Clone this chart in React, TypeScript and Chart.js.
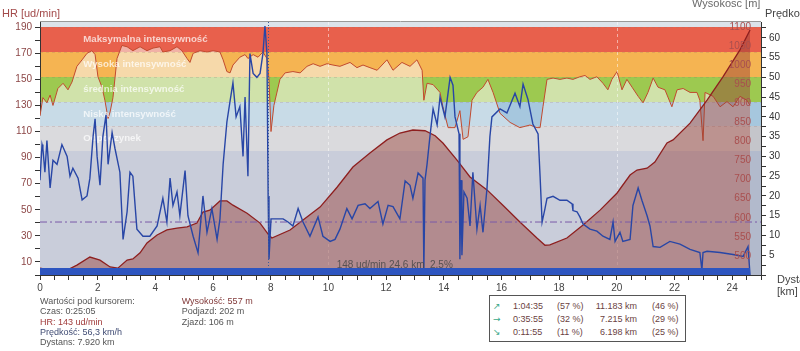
import React, { useEffect, useRef } from "react";
import { Chart, registerables } from "chart.js";

Chart.register(...registerables);

const FONT = "'Liberation Sans', Arial, Helvetica, sans-serif";

// ---------- data ----------
const hrKm = [0.00,0.10,0.24,0.35,0.45,0.62,0.80,0.97,1.11,1.28,1.46,1.63,1.80,1.91,2.01,2.15,2.25,2.36,2.43,2.53,2.67,2.84,3.02,3.22,3.47,3.71,3.92,4.16,4.26,4.51,4.75,4.92,5.10,5.20,5.31,5.55,5.79,6.00,6.24,6.35,6.48,6.59,6.69,6.93,7.11,7.21,7.39,7.56,7.73,7.87,7.94,8.01,8.11,8.32,8.50,8.77,9.02,9.26,9.47,9.71,9.95,10.16,10.40,10.75,10.99,11.20,11.44,11.69,12.03,12.24,12.55,12.83,13.07,13.25,13.31,13.42,13.63,13.87,13.97,14.15,14.39,14.56,14.67,14.84,14.98,15.15,15.36,15.53,15.71,15.95,16.30,16.64,16.99,17.23,17.34,17.44,17.58,17.79,18.03,18.27,18.48,18.72,18.90,19.07,19.31,19.52,19.69,19.83,20.01,20.18,20.35,20.53,20.74,20.91,21.08,21.26,21.43,21.67,21.91,22.09,22.30,22.54,22.78,22.88,22.99,23.06,23.34,23.58,23.82,24.03,24.27,24.51,24.62];
const hrBpm = [122,136,132,138,130,143,147,142,148,160,165,170,172,169,152,144,134,120,125,136,166,176,175,172,175,172,174,175,171,172,175,172,166,163,170,172,171,172,171,165,156,155,161,167,169,166,169,167,171,166,150,110,130,150,155,156,155,160,162,160,162,161,160,163,159,161,159,157,165,157,163,160,165,157,134,147,146,140,129,113,113,126,104,106,134,140,144,150,140,124,117,113,115,113,113,129,150,151,150,151,150,152,153,150,152,147,142,150,156,142,150,144,137,132,140,151,144,142,129,142,143,140,140,134,103,140,137,129,133,129,137,134,130];

const elevKm = [0.00,0.35,0.94,1.28,1.73,2.08,2.43,2.70,3.02,3.22,3.47,3.71,4.06,4.40,4.75,5.10,5.44,5.65,5.89,6.24,6.48,6.69,7.18,7.63,7.91,8.04,8.67,9.12,9.71,10.30,10.85,11.44,12.03,12.48,12.93,13.35,13.70,13.97,14.46,14.91,15.50,16.05,16.64,17.23,17.51,17.68,18.27,18.83,19.42,20.01,20.46,20.70,21.05,21.32,21.74,21.95,22.54,23.13,23.68,24.27,24.62];
const elevM = [468,463,463,476,497,489,471,468,489,492,508,534,555,568,573,576,586,615,620,644,644,633,612,586,557,547,568,594,628,680,733,770,804,822,830,828,815,796,751,707,673,633,589,547,528,529,547,581,620,665,712,725,730,746,796,804,848,908,969,1040,1092];

const speedKm = [0.00,0.07,0.10,0.17,0.24,0.35,0.45,0.59,0.76,0.94,1.04,1.14,1.32,1.46,1.63,1.73,1.84,1.91,1.98,2.08,2.18,2.29,2.36,2.50,2.60,2.77,2.88,3.02,3.12,3.22,3.36,3.57,3.81,4.06,4.26,4.40,4.51,4.61,4.75,4.85,5.03,5.13,5.31,5.48,5.65,5.79,5.96,6.14,6.24,6.35,6.48,6.59,6.69,6.80,6.93,7.04,7.11,7.21,7.28,7.39,7.52,7.63,7.73,7.80,7.87,7.91,7.94,8.01,8.22,8.43,8.60,8.77,8.95,9.12,9.36,9.64,9.81,10.06,10.23,10.40,10.64,10.82,11.03,11.27,11.44,11.72,11.89,12.07,12.24,12.48,12.66,12.83,12.93,13.11,13.28,13.31,13.35,13.42,13.52,13.63,13.77,13.87,14.04,14.22,14.32,14.39,14.53,14.56,14.60,14.63,14.70,14.81,14.91,15.01,15.15,15.26,15.36,15.50,15.60,15.67,15.95,16.19,16.47,16.64,16.75,16.92,17.09,17.27,17.34,17.41,17.51,17.58,17.79,18.03,18.27,18.45,18.48,18.62,18.72,18.83,19.07,19.31,19.52,19.76,19.87,19.94,20.11,20.21,20.46,20.56,20.74,20.87,21.05,21.15,21.26,21.50,21.84,22.19,22.54,22.88,22.95,22.99,23.13,23.58,24.03,24.38,24.55,24.62];
const speedKmh = [24,33,32,26,34,22,29,28,33,30,25,27,24.5,19,20,24.5,35,39.5,30,22.7,35,40.5,28,36,32,26,9,16,26,25,11.6,9.8,9.8,12.4,19.4,13.4,24.5,17.6,21,15,26.4,15,9.8,5.6,20,10.8,16.8,9,14.2,28,38.7,44,48.6,40,42.6,30,45,25,56,51,50,51,56,63,56,20,4,14.2,14.2,14.2,13.4,12.4,16.8,13.4,9.8,14.7,9.8,8.5,9,11.6,16.8,14.2,17.6,18,16.8,18.6,12.9,17.6,17.3,14.2,23.8,22.7,19.4,25.8,24.5,1.3,24,28,35,42,38,45,40,50,48,40,35.7,4,24,5,21,19.4,12.4,26,11.6,17.6,10.8,22,35,40,42,41,46,42.6,48.3,44.4,38.2,35.7,25,13.4,16.8,19.4,19.9,18.9,18.9,18,16.3,16,14.7,12.9,11.6,11.1,9.8,9,13.4,8.5,10.8,8.5,9,17.6,22,18.9,15,12.4,7.2,7,8.5,7.8,6.5,5.7,1.3,5.7,6,5.7,5.2,4.7,7.2,0];

const barKm = [0, 24.62];
const barLevel = [1.8, 1.8];
const avgKm = [0, 25];
const avgSpeed = [13.4, 13.4];

const zoneBounds = [0, 95, 114, 133, 152, 171, 190, 194];
const zoneNames = ["", "Odpoczynek", "Niska intensywność", "średnia intensywność", "Wysoka intensywność", "Maksymalna intensywność", ""];
const zoneColors = ["#b2bacc", "#c4c5ca", "#a6c7de", "#9dc950", "#f5b452", "#e8604c", "#dce3ea"];
const zonePale = ["#c9cdda", "#dadadd", "#c8dbe7", "#d0e2aa", "#f6d9aa", "#f1b1a6", "#e6ebf0"];
const zoneLabelKm = 1.5;

const elevTicks = [500, 550, 600, 650, 700, 750, 800, 850, 900, 950, 1000, 1050, 1100];
const gridKm = [10, 20];
const cursorKm = 7.92;
const avgHr = 148;
const totalKm = 24.6;
const avgGrade = 2.5;

const rowArrows = ["↗", "→", "↘"];
const rowTimes = ["1:04:35", "0:35:55", "0:11:55"];
const rowTimePct = [57, 32, 11];
const rowDist = ["11.183", "7.215", "6.198"];
const rowDistPct = [46, 29, 25];

// ---------- helpers ----------
const pts = (xs: number[], ys: number[]) => xs.map((x, i) => ({ x, y: ys[i] }));

function hrFill(c: any) {
  const chart = c.chart;
  if (!chart.chartArea) return zonePale[0];
  const ys = chart.scales.yHR;
  const y0 = ys.getPixelForValue(ys.min);
  const y1 = ys.getPixelForValue(ys.max);
  const g = chart.ctx.createLinearGradient(0, y0, 0, y1);
  const span = ys.max - ys.min;
  for (let i = 0; i < zonePale.length; i++) {
    g.addColorStop(Math.min(1, Math.max(0, (zoneBounds[i] - ys.min) / span)), zonePale[i]);
    g.addColorStop(Math.min(1, Math.max(0, (zoneBounds[i + 1] - ys.min) / span)), zonePale[i]);
  }
  return g;
}

const chartPlugin = {
  id: "hrDecor",
  beforeDraw(chart: any) {
    const { ctx, chartArea: a } = chart;
    const ys = chart.scales.yHR;
    ctx.save();
    for (let i = 0; i < zoneColors.length; i++) {
      const top = Math.round(ys.getPixelForValue(zoneBounds[i + 1]));
      const bot = Math.round(ys.getPixelForValue(zoneBounds[i]));
      ctx.fillStyle = zoneColors[i];
      ctx.fillRect(a.left, top, a.right - a.left, bot - top);
    }
    ctx.restore();
  },
  afterDatasetDraw(chart: any, args: any) {
    if (chart.data.datasets[args.index].label !== "hr") return;
    const { ctx, chartArea: a } = chart;
    const ys = chart.scales.yHR;
    const xs = chart.scales.x;
    ctx.save();
    ctx.lineWidth = 1;
    ctx.setLineDash([3, 3]);
    ctx.strokeStyle = "rgba(150,110,110,0.22)";
    for (let i = 2; i < zoneBounds.length - 1; i++) {
      const y = Math.round(ys.getPixelForValue(zoneBounds[i])) + 0.5;
      ctx.beginPath();
      ctx.moveTo(a.left, y);
      ctx.lineTo(a.right, y);
      ctx.stroke();
    }
    ctx.strokeStyle = "rgba(255,255,255,0.5)";
    for (const k of gridKm) {
      const x = Math.round(xs.getPixelForValue(k)) + 0.5;
      ctx.beginPath();
      ctx.moveTo(x, a.top);
      ctx.lineTo(x, a.bottom);
      ctx.stroke();
    }
    ctx.setLineDash([]);
    ctx.font = "bold 9.7px " + FONT;
    ctx.fillStyle = "rgba(255,255,255,0.72)";
    ctx.textAlign = "left";
    ctx.textBaseline = "middle";
    const lx = xs.getPixelForValue(zoneLabelKm);
    for (let i = 0; i < zoneNames.length; i++) {
      if (!zoneNames[i]) continue;
      const y = ys.getPixelForValue((zoneBounds[i] + zoneBounds[i + 1]) / 2);
      ctx.fillText(zoneNames[i], lx, y);
    }
    ctx.restore();
  },
  afterDatasetsDraw(chart: any) {
    const { ctx, chartArea: a } = chart;
    const xs = chart.scales.x;
    const ye = chart.scales.yElev;
    ctx.save();
    ctx.font = "10px " + FONT;
    ctx.fillStyle = "#a94f4f";
    ctx.textAlign = "right";
    ctx.textBaseline = "middle";
    for (const t of elevTicks) {
      ctx.fillText(String(t), a.right - 10, ye.getPixelForValue(t));
    }
    ctx.fillStyle = "rgba(70,70,70,0.85)";
    ctx.textAlign = "center";
    ctx.fillText(`${avgHr} ud/min ${totalKm} km  ${avgGrade}%`, xs.getPixelForValue(totalKm / 2), a.bottom - 10);
    const cx = Math.round(xs.getPixelForValue(cursorKm)) + 0.5;
    ctx.strokeStyle = "#3a5a9a";
    ctx.lineWidth = 1;
    ctx.setLineDash([1, 2]);
    ctx.beginPath();
    ctx.moveTo(cx, a.top);
    ctx.lineTo(cx, a.bottom);
    ctx.stroke();
    ctx.restore();
  },
  afterDraw(chart: any) {
    const { ctx, chartArea: a } = chart;
    ctx.save();
    ctx.strokeStyle = "#999";
    ctx.lineWidth = 1;
    ctx.beginPath();
    ctx.moveTo(a.left, a.top - 0.5);
    ctx.lineTo(a.right, a.top - 0.5);
    ctx.stroke();
    ctx.restore();
  },
};

export default function App() {
  const ref = useRef<HTMLCanvasElement>(null);
  useEffect(() => {
    if (!ref.current) return;
    Chart.defaults.font.family = FONT;
    const tickFont = { size: 10, family: FONT };
    const chart = new Chart(ref.current, {
      type: "line",
      data: {
        datasets: [
          { label: "bar", data: pts(barKm, barLevel), yAxisID: "ySpeed", borderWidth: 0, borderColor: "rgba(0,0,0,0)", backgroundColor: "#2d55c0", fill: "origin", pointRadius: 0, order: 0 } as any,
          { label: "speed", data: pts(speedKm, speedKmh), yAxisID: "ySpeed", borderColor: "#2846a6", borderWidth: 1.4, pointRadius: 0, fill: false, order: 1 },
          { label: "avg", data: pts(avgKm, avgSpeed), yAxisID: "ySpeed", borderColor: "#7a5aa8", borderWidth: 1, borderDash: [7, 3, 2, 3], pointRadius: 0, fill: false, order: 2 },
          { label: "elev", data: pts(elevKm, elevM), yAxisID: "yElev", borderColor: "#8e1f1f", borderWidth: 1.3, backgroundColor: "rgba(150,60,50,0.45)", fill: "origin", pointRadius: 0, order: 3 },
          { label: "hr", data: pts(hrKm, hrBpm), yAxisID: "yHR", borderColor: "#c24a2e", borderWidth: 1, backgroundColor: hrFill, fill: "origin", pointRadius: 0, order: 4 },
        ],
      },
      options: {
        responsive: false,
        animation: false,
        events: [],
        layout: { padding: { top: 22, left: 0, right: 0, bottom: 0 } },
        plugins: { legend: { display: false }, tooltip: { enabled: false } },
        scales: {
          x: {
            type: "linear",
            min: 0,
            max: 25,
            bounds: "data",
            afterFit: (s: any) => { s.height = 76; },
            ticks: { stepSize: 0.5, autoSkip: false, maxRotation: 0, padding: 2, color: "#444", font: tickFont, callback: (v: any) => (Number(v) % 2 === 0 ? String(v) : "") },
            grid: { drawOnChartArea: false, tickLength: 5, color: "#333" },
            border: { color: "#333" },
          },
          yHR: {
            type: "linear",
            position: "left",
            min: 0,
            max: 194,
            bounds: "data",
            afterFit: (s: any) => { s.width = 40; },
            afterBuildTicks: (s: any) => { s.ticks = s.ticks.filter((t: any) => t.value % 10 === 0); },
            ticks: { stepSize: 10, autoSkip: false, padding: 3, color: "#8c4646", font: tickFont, callback: (v: any) => (Number(v) % 20 === 10 ? String(v) : "") },
            grid: { drawOnChartArea: false, tickLength: 5, color: "#333" },
            border: { color: "#333" },
          },
          yElev: { type: "linear", display: false, min: 450, max: 1113, bounds: "data" },
          ySpeed: {
            type: "linear",
            position: "right",
            min: 0,
            max: 64,
            bounds: "data",
            afterFit: (s: any) => { s.width = 39; },
            afterBuildTicks: (s: any) => { s.ticks = s.ticks.filter((t: any) => Math.abs(t.value / 2.5 - Math.round(t.value / 2.5)) < 1e-6); },
            ticks: { stepSize: 2.5, autoSkip: false, padding: 3, color: "#333", font: tickFont, callback: (v: any) => (Number(v) > 0 && Number(v) % 5 === 0 ? String(v) : "") },
            grid: { drawOnChartArea: false, tickLength: 5, color: "#333" },
            border: { color: "#333" },
          },
        },
      } as any,
      plugins: [chartPlugin],
    });
    return () => chart.destroy();
  }, []);

  const abs = (left: number, top: number, extra: any = {}) => ({ position: "absolute" as const, left, top, whiteSpace: "nowrap" as const, ...extra });
  const infoTop = 296.2;
  const lh = 10.3;
  const rowCenters = [306.2, 319.4, 332.4];
  const boxColor = "#6b3f3f";

  return (
    <div style={{ position: "fixed", left: 0, top: 0, width: 800, height: 351, overflow: "hidden", background: "#fff", fontFamily: FONT }}>
      <canvas ref={ref} width={800} height={351} style={{ position: "absolute", left: 0, top: 0, width: 800, height: 351 }} />
      <div style={abs(2, 6.5, { fontSize: 11, lineHeight: "12px", color: "#a34a4a" })}>HR [ud/min]</div>
      <div style={abs(692, -3, { fontSize: 11, lineHeight: "12px", color: "#6a6a6a" })}>Wysokosc [m]</div>
      <div style={abs(765, 6.5, { fontSize: 11, lineHeight: "12px", color: "#444" })}>Prędkość</div>
      <div style={abs(777, 273, { fontSize: 11, lineHeight: "12px", color: "#444" })}>Dystans</div>
      <div style={abs(777, 285, { fontSize: 11, lineHeight: "12px", color: "#444" })}>[km]</div>

      <div style={abs(40, infoTop, { fontSize: 9, lineHeight: lh + "px", color: "#555" })}>
        <div>Wartości pod kursorem:</div>
        <div>Czas: 0:25:05</div>
        <div style={{ color: "#a03a3a" }}>HR: 143 ud/min</div>
        <div style={{ color: "#404c74" }}>Prędkość: 56,3 km/h</div>
        <div>Dystans: 7.920 km</div>
      </div>
      <div style={abs(181.7, infoTop, { fontSize: 9, lineHeight: lh + "px", color: "#555" })}>
        <div style={{ color: "#803838" }}>Wysokość: 557 m</div>
        <div>Podjazd: 202 m</div>
        <div>Zjazd: 106 m</div>
      </div>

      <div style={abs(489, 295, { width: 197, height: 47, border: "1px solid #555", boxSizing: "border-box", background: "#fff" })} />
      {rowCenters.map((c, i) => (
        <React.Fragment key={i}>
          <div style={abs(493, c - 6, { fontSize: 9, lineHeight: "12px", color: "#3aa98a", fontFamily: "'DejaVu Sans', sans-serif" })}>{rowArrows[i]}</div>
          <div style={abs(513, c - 6, { fontSize: 9, lineHeight: "12px", color: boxColor })}>{rowTimes[i]}</div>
          <div style={abs(557, c - 6, { fontSize: 9, lineHeight: "12px", color: boxColor })}>({rowTimePct[i]} %)</div>
          <div style={abs(577, c - 6, { fontSize: 9, lineHeight: "12px", color: boxColor, width: 60, textAlign: "right" })}>{rowDist[i]} km</div>
          <div style={abs(652, c - 6, { fontSize: 9, lineHeight: "12px", color: boxColor })}>({rowDistPct[i]} %)</div>
        </React.Fragment>
      ))}
    </div>
  );
}
